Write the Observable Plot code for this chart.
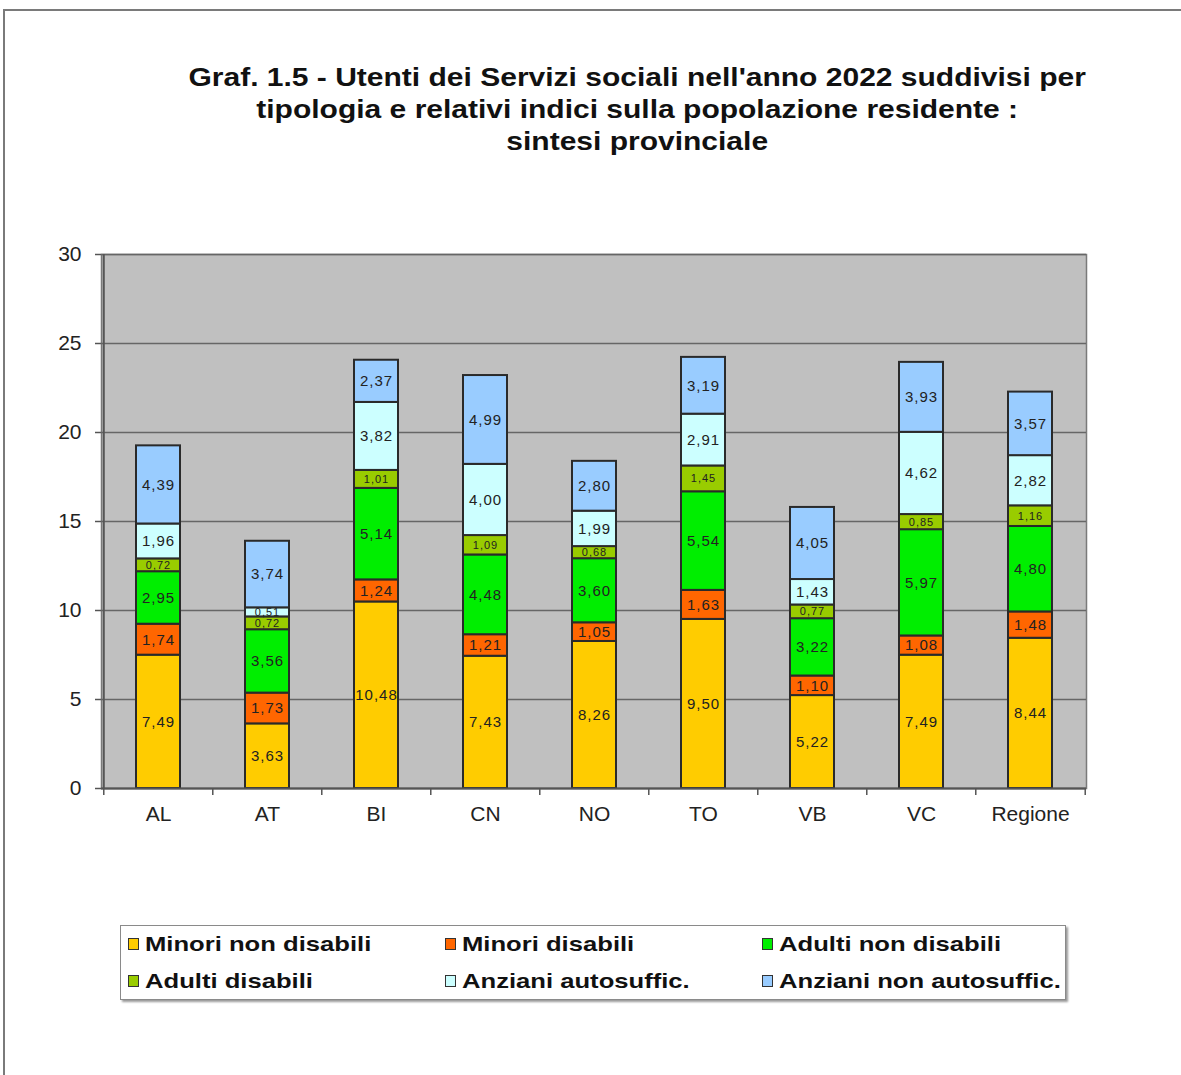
<!DOCTYPE html>
<html>
<head>
<meta charset="utf-8">
<script src="https://cdn.jsdelivr.net/npm/d3@7"></script>
<script src="https://cdn.jsdelivr.net/npm/@observablehq/plot@0.6"></script>
<style>
  html, body { margin: 0; padding: 0; background: #fff; }
  #page { position: relative; width: 1181px; height: 1075px; overflow: hidden;
          font-family: "Liberation Sans", Arial, sans-serif; }
  #frame { position: absolute; left: 3px; top: 9px; right: -10px; bottom: -10px;
           border-top: 2px solid #7a7a7a; border-left: 2px solid #7a7a7a; }
  #title { position: absolute; left: 186px; width: 902px; top: 61px; text-align: center;
           font-weight: bold; font-size: 25px; line-height: 32px; color: #111;
           transform: scaleX(1.2); transform-origin: 450px 0; }
  #chart { position: absolute; left: 0; top: 230px; }
  #chart svg g[aria-label="tick label"] text,
  #chart svg g[aria-label="text"] text { letter-spacing: 1px; }
  #legend { position: absolute; left: 120px; top: 925px; width: 944px; height: 73px;
            border: 1px solid #8a8a8a; box-shadow: 2px 2px 2px #9a9a9a; background: #fff; }
  .item { position: absolute; font-weight: bold; font-size: 21px; color: #111; white-space: nowrap;
          line-height: 24px; }
  .item .lbl { display: inline-block; transform: scaleX(1.22); transform-origin: 0 0; }
  .sw { display: inline-block; width: 9px; height: 10px; border: 1.5px solid #333; margin-right: 6px;
        vertical-align: 1px; }
</style>
</head>
<body>
<div id="page">
  <div id="frame"></div>
  <div id="title"></div>
  <div id="chart"></div>
  <div id="legend"></div>
</div>
<script>
const categories = ["AL", "AT", "BI", "CN", "NO", "TO", "VB", "VC", "Regione"];
const seriesNames = ["Minori non disabili", "Minori disabili", "Adulti non disabili",
                     "Adulti disabili", "Anziani autosuffic.", "Anziani non autosuffic."];
const seriesColors = ["#ffcc00", "#ff6600", "#00ee00", "#99cc00", "#ccffff", "#99ccff"];
const minoriNonDisabili   = [7.49, 3.63, 10.48, 7.43, 8.26, 9.50, 5.22, 7.49, 8.44];
const minoriDisabili      = [1.74, 1.73, 1.24, 1.21, 1.05, 1.63, 1.10, 1.08, 1.48];
const adultiNonDisabili   = [2.95, 3.56, 5.14, 4.48, 3.60, 5.54, 3.22, 5.97, 4.80];
const adultiDisabili      = [0.72, 0.72, 1.01, 1.09, 0.68, 1.45, 0.77, 0.85, 1.16];
const anzianiAutosuff     = [1.96, 0.51, 3.82, 4.00, 1.99, 2.91, 1.43, 4.62, 2.82];
const anzianiNonAutosuff  = [4.39, 3.74, 2.37, 4.99, 2.80, 3.19, 4.05, 3.93, 3.57];
const yTicks = [0, 5, 10, 15, 20, 25, 30];
const titleLines = [
  "Graf. 1.5 - Utenti dei Servizi sociali nell'anno 2022 suddivisi per",
  "tipologia e relativi indici sulla popolazione residente :",
  "sintesi provinciale"
];

const seriesValues = [minoriNonDisabili, minoriDisabili, adultiNonDisabili,
                      adultiDisabili, anzianiAutosuff, anzianiNonAutosuff];
const data = [];
seriesNames.forEach((s, si) => {
  categories.forEach((c, ci) => data.push({cat: c, series: s, value: seriesValues[si][ci]}));
});
const fmt = v => d3.format(".2f")(v).replace(".", ",");
const small = d => d.series === "Adulti disabili" || d.value < 0.6;

document.getElementById("title").innerHTML = titleLines.join("<br>");

const FONT = "'Liberation Sans', Arial, sans-serif";
const W = 1181, mL = 101, mR = 95;
const step = (W - mL - mR) / categories.length;

const chart = Plot.plot({
  width: W, height: 608,
  marginTop: 24, marginBottom: 50, marginLeft: mL, marginRight: mR,
  style: {fontFamily: FONT, background: "transparent", color: "#222", overflow: "visible"},
  x: {domain: categories, paddingInner: 0.6, paddingOuter: 0.3, label: null},
  y: {domain: [0, 30], label: null},
  color: {domain: seriesNames, range: seriesColors},
  marks: [
    Plot.frame({fill: "#c0c0c0", stroke: "#7a7a7a", strokeWidth: 1.5}),
    Plot.ruleY(yTicks, {stroke: "#666", strokeWidth: 1.6}),
    Plot.barY(data, {x: "cat", y: "value", z: "series", fill: "series",
                     stroke: "#2a2a2a", strokeWidth: 2}),
    Plot.text(data, Plot.stackY({x: "cat", y: "value", z: "series",
      text: d => fmt(d.value),
      fontSize: d => small(d) ? 11 : 15,
      fill: "#222"})),
    Plot.ruleX([0], {x: () => categories[0], dx: -step / 2, y1: 0, y2: 30, stroke: "#555", strokeWidth: 2}),
    Plot.ruleY([0], {stroke: "#555", strokeWidth: 2}),
    Plot.ruleX(categories, {x: d => d, dx: -step / 2, y1: 0, y2: 0, insetBottom: -7, stroke: "#555", strokeWidth: 1.5}),
    Plot.ruleX([categories[categories.length - 1]], {x: d => d, dx: step / 2, y1: 0, y2: 0, insetBottom: -7, stroke: "#555", strokeWidth: 1.5}),
    Plot.axisY({ticks: yTicks, tickSize: 6, tickPadding: 14, fontSize: 21, tickFormat: d => String(d),
                stroke: "#555", strokeWidth: 1.5}),
    Plot.axisX({tickSize: 0, tickPadding: 18, fontSize: 21})
  ]
});
document.getElementById("chart").appendChild(chart);

// Legend
const legend = document.getElementById("legend");
const colX = [7, 324, 641];
const rowY = [6, 43];
seriesNames.forEach((s, i) => {
  const el = document.createElement("div");
  el.className = "item";
  el.style.left = colX[i % 3] + "px";
  el.style.top = rowY[Math.floor(i / 3)] + "px";
  el.innerHTML = `<span class="sw" style="background:${seriesColors[i]}"></span><span class="lbl">${s}</span>`;
  legend.appendChild(el);
});
</script>
</body>
</html>
